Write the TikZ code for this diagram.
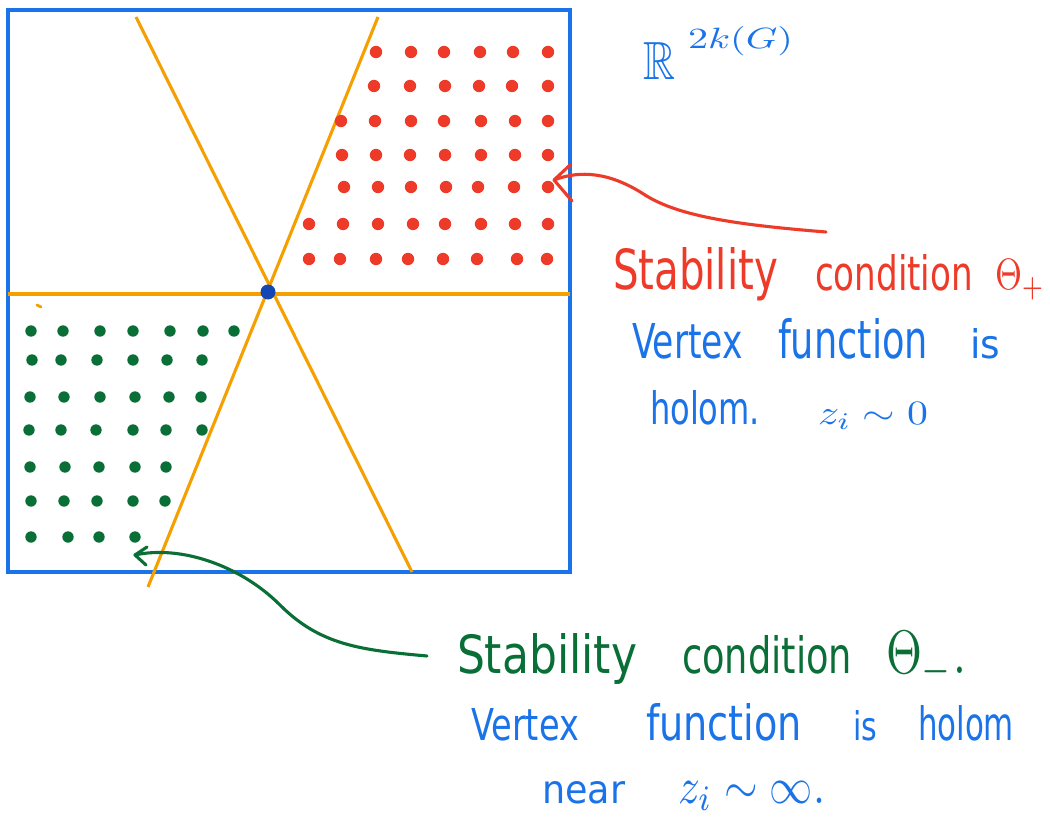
\documentclass[tikz,border=0pt]{standalone}
\usepackage{fontspec}
\setmainfont{DejaVu Sans}
\usepackage{amssymb}
\usepackage{graphicx}
\definecolor{hblue}{HTML}{1A73E8}
\definecolor{hred}{HTML}{EE3A28}
\definecolor{hgreen}{HTML}{0A6E37}
\definecolor{horange}{HTML}{F5A000}
\definecolor{hdot}{HTML}{1446B4}
\newcommand{\hw}[3]{\resizebox{#1pt}{#2pt}{#3}}
\tikzset{
  word/.style={anchor=base west, inner sep=0pt, outer sep=0pt},
  frame/.style={draw=hblue, line width=3.4pt},
  ray/.style={draw=horange, line width=3.1pt},
  reddot/.style={fill=hred},
  greendot/.style={fill=hgreen},
  redarrow/.style={draw=hred, line width=3.1pt, line cap=round, line join=round},
  greenarrow/.style={draw=hgreen, line width=3.1pt, line cap=round, line join=round},
}
\begin{document}
\begin{tikzpicture}[x=1pt,y=-1pt]
\useasboundingbox (0,0) rectangle (1050,821);
\fill[white] (0,0) rectangle (1050,821);
% frame and rays
\draw[frame] (8,10) rectangle (570,572);
\draw[ray] (8,294) -- (570,294);
\draw[ray] (136,17) -- (412,572);
\draw[ray] (378,17) -- (148,587);
\draw[horange, line width=2.8pt, line cap=round] (37,305) -- (41,307);
% red lattice
\foreach \y/\xs in {52/{376,411,444,480,513,548},
                    86/{374,410,445,479,512,548},
                    121/{341,375,411,444,481,515,548},
                    155/{342,376,410,445,481,515,548},
                    187/{344,378,411,446,478,514,548},
                    224/{309,343,378,413,445,481,515,548},
                    259/{309,340,376,408,443,477,517,547}}
  \foreach \x in \xs { \fill[reddot] (\x,\y) circle (6.2); }
% green lattice
\foreach \y/\xs in {331/{31,63,100,133,170,203,234},
                    360/{32,61,97,133,167,202},
                    397/{30,64,100,135,169,201},
                    430/{29,61,96,133,166,202},
                    467/{30,65,99,135,166},
                    501/{31,64,97,133,165},
                    537/{31,68,99,135}}
  \foreach \x in \xs { \fill[greendot] (\x,\y) circle (5.7); }
% origin
\fill[hdot] (268,292) circle (7.5);
% label R^{2k(G)}
\node[word, text=hblue] (rr) at (643,80) {\hw{32}{37}{$\mathbb{R}$}};
\node[word, text=hblue] (rsup) at (688,49) {\hw{105}{22}{$2k(G)$}};
% red text
\node[word, text=hred] (rs1) at (613,290) {\hw{165}{42}{Stability}};
\node[word, text=hred] (rs2) at (815,290) {\hw{158}{36}{condition}};
\node[word, text=hred] (rs3) at (995,290) {\hw{50}{30}{$\Theta_+$}};
% blue text (upper)
\node[word, text=hblue] (b1) at (632,358) {\hw{111}{35}{Vertex}};
\node[word, text=hblue] (b2) at (778,358) {\hw{150}{40}{function}};
\node[word, text=hblue] (b3) at (970,358) {\hw{30}{30}{is}};
\node[word, text=hblue] (b4) at (650,424) {\hw{110}{34}{holom.}};
\node[word, text=hblue] (b5) at (818,424) {\hw{110}{22}{$z_i\sim 0$}};
% green text
\node[word, text=hgreen] (gs1) at (457,673) {\hw{180}{40}{Stability}};
\node[word, text=hgreen] (gs2) at (682,673) {\hw{170}{38}{condition}};
\node[word, text=hgreen] (gs3) at (886,673) {\hw{80}{42}{$\Theta_-.$}};
% blue text (lower)
\node[word, text=hblue] (c1) at (471,740) {\hw{108}{32}{Vertex}};
\node[word, text=hblue] (c2) at (646,740) {\hw{156}{37}{function}};
\node[word, text=hblue] (c3) at (853,740) {\hw{24}{30}{is}};
\node[word, text=hblue] (c4) at (918,740) {\hw{96}{35}{holom}};
\node[word, text=hblue] (c5) at (542,803) {\hw{83}{22}{near}};
\node[word, text=hblue] (c6) at (678,803) {\hw{147}{22}{$z_i\sim\infty.$}};
% arrows
\coordinate (rtail) at (826,232);
\coordinate (rtip) at (554,180);
\draw[redarrow] (rtip) .. controls (580,170) and (610,172) .. (645,195)
   .. controls (680,217) and (740,225) .. (rtail);
\draw[redarrow] (570,165) -- (rtip) -- (572,201);
\coordinate (gtail) at (427,656);
\coordinate (gtip) at (135,555);
\draw[greenarrow] (gtip) .. controls (180,545) and (240,565) .. (280,605)
   .. controls (320,645) and (360,650) .. (gtail);
\draw[greenarrow] (147,547) -- (gtip) -- (146,565);
\end{tikzpicture}
\end{document}
